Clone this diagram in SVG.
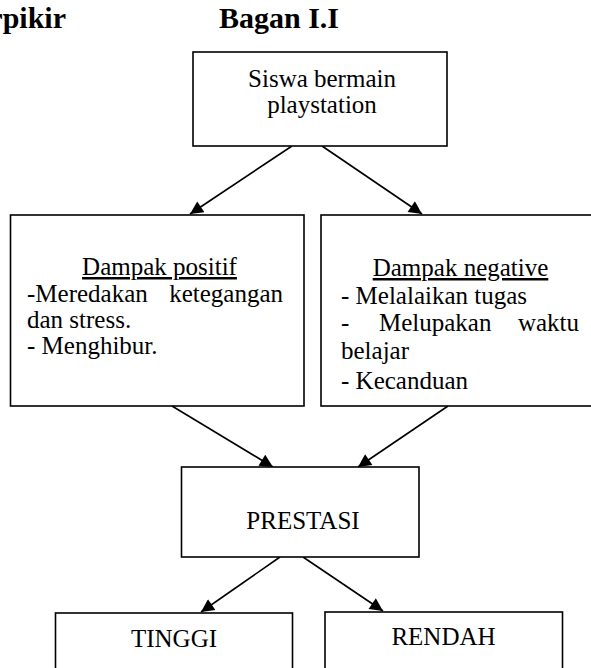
<svg xmlns="http://www.w3.org/2000/svg" width="591" height="668" viewBox="0 0 591 668">
<defs>
<style>
.box{fill:#fff;stroke:#000;stroke-width:1.6}
.t{font-family:"Liberation Serif","Times New Roman",serif;font-size:25px;fill:#000}
.c{text-anchor:middle}
.h{font-family:"Liberation Serif","Times New Roman",serif;font-size:30px;font-weight:bold;fill:#000}
.u{text-decoration:underline}
.conn{stroke:#000;stroke-width:1.6;fill:none;marker-end:url(#arr)}
</style>
<marker id="arr" viewBox="0 0 10 10" refX="10" refY="5" markerWidth="14" markerHeight="13" markerUnits="userSpaceOnUse" orient="auto">
<path d="M0,0 L10,5 L0,10 z" fill="#000"/>
</marker>
</defs>
<rect width="591" height="668" fill="#fff"/>
<g id="titles">
<text class="h" x="66" y="28" text-anchor="end">rpikir</text>
<text class="h" x="219" y="28">Bagan I.I</text>
</g>
<g id="connectors">
<line class="conn" x1="292" y1="146" x2="190" y2="214"/>
<line class="conn" x1="322" y1="146" x2="422" y2="214"/>
<line class="conn" x1="172" y1="406" x2="273" y2="467"/>
<line class="conn" x1="448" y1="406" x2="358" y2="467"/>
<line class="conn" x1="280" y1="557" x2="201" y2="612"/>
<line class="conn" x1="303" y1="557" x2="383" y2="611"/>
</g>
<g id="node-siswa">
<rect class="box" x="193" y="52" width="254" height="94"/>
<text class="t c" x="322" y="87">Siswa bermain</text>
<text class="t c" x="322" y="113">playstation</text>
</g>
<g id="node-positif">
<rect class="box" x="10.5" y="215" width="293.5" height="191"/>
<text class="t c u" x="159.5" y="275">Dampak positif</text>
<text class="t" x="27" y="302">-Meredakan</text>
<text class="t" x="283" y="302" text-anchor="end">ketegangan</text>
<text class="t" x="27" y="328">dan stress.</text>
<text class="t" x="27" y="354">- Menghibur.</text>
</g>
<g id="node-negative">
<rect class="box" x="321" y="215" width="278" height="191"/>
<text class="t c u" x="460.5" y="276">Dampak negative</text>
<text class="t" x="341" y="304">- Melalaikan tugas</text>
<text class="t" x="341" y="331">-</text>
<text class="t" x="379" y="331">Melupakan</text>
<text class="t" x="579" y="331" text-anchor="end">waktu</text>
<text class="t" x="341" y="359">belajar</text>
<text class="t" x="341" y="389">- Kecanduan</text>
</g>
<g id="node-prestasi">
<rect class="box" x="181.5" y="467" width="237.5" height="90"/>
<text class="t c" x="303" y="529">PRESTASI</text>
</g>
<g id="node-tinggi">
<rect class="box" x="55.5" y="613" width="237" height="70"/>
<text class="t c" x="174" y="647">TINGGI</text>
</g>
<g id="node-rendah">
<rect class="box" x="325" y="612" width="237.5" height="70"/>
<text class="t c" x="443.5" y="645">RENDAH</text>
</g>
</svg>
